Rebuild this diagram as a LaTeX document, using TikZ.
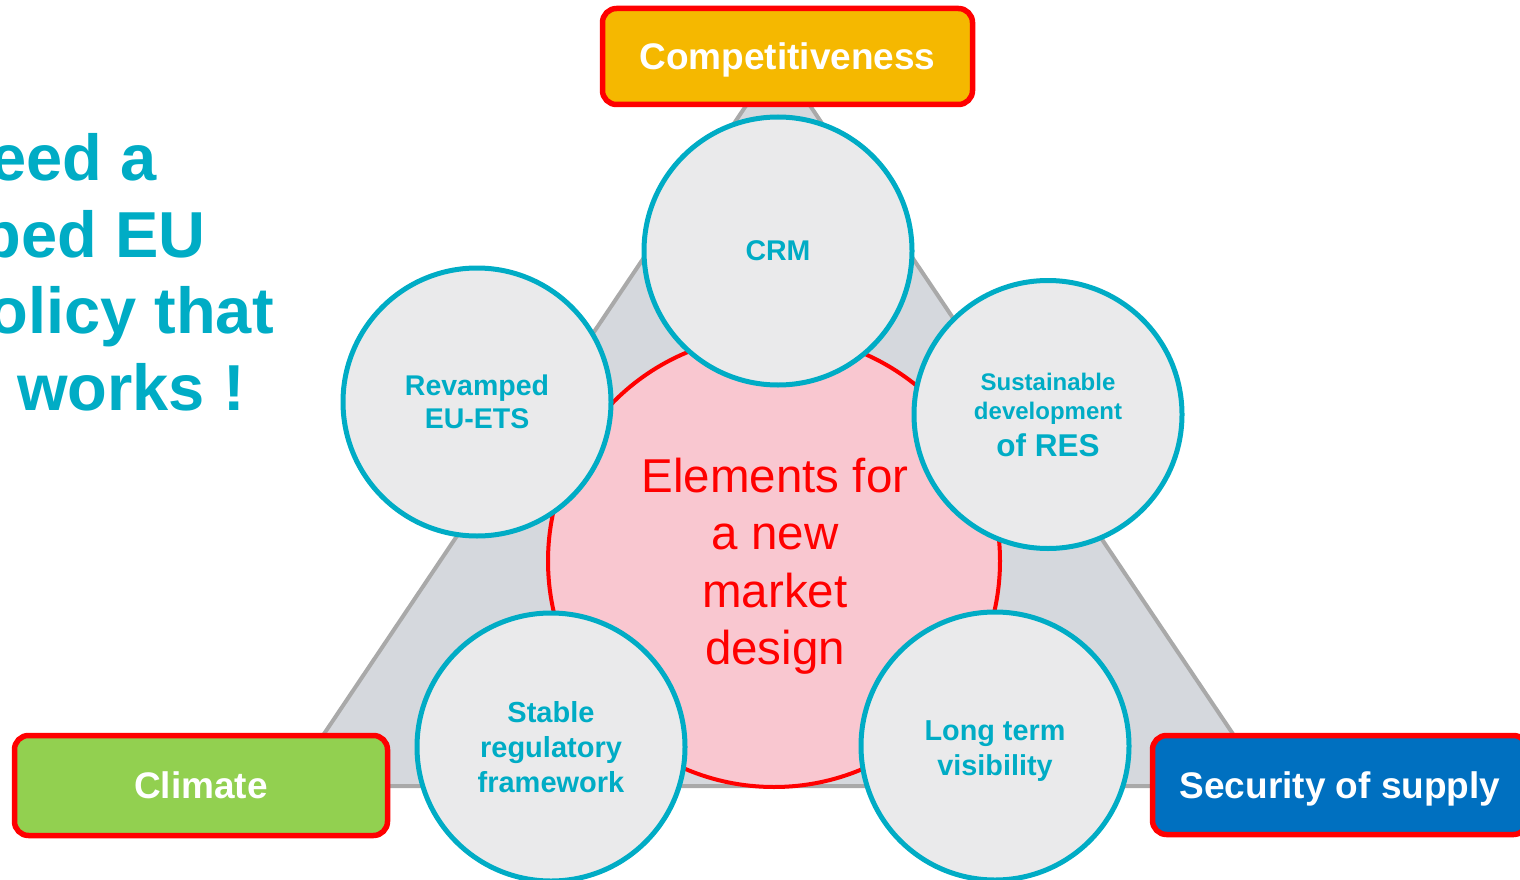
\documentclass[tikz,border=0pt]{standalone}
\usepackage{fontspec}
\setmainfont{Liberation Sans}
\definecolor{tealc}{HTML}{00ACC5}
\definecolor{trifill}{HTML}{D5D8DD}
\definecolor{triline}{HTML}{A9A9A9}
\definecolor{circfill}{HTML}{EAEAEB}
\definecolor{pinkfill}{HTML}{F9C7D0}
\definecolor{compfill}{HTML}{F5B800}
\definecolor{climfill}{HTML}{92D050}
\definecolor{secfill}{HTML}{0070C0}
\begin{document}
\begin{tikzpicture}[x=1pt,y=-1pt,
  elem/.style={circle, draw=tealc, line width=5pt, fill=circfill, minimum size=268pt,
    inner sep=0pt, text=tealc, align=center, font=\bfseries\fontsize{28.5}{33}\selectfont},
  goal/.style={draw=red, line width=5.5pt, rounded corners=14pt, text=white, inner sep=0pt,
    font=\bfseries\fontsize{37}{44}\selectfont, text height=26.5pt, text depth=0pt},
  lefttext/.style={text=tealc, inner sep=0pt, font=\bfseries\fontsize{65}{77}\selectfont}
]
\useasboundingbox (0,0) rectangle (1520,880);
% triangle
\coordinate (tA) at (778,58);
\coordinate (tB) at (289,786);
\coordinate (tC) at (1268,786);
\draw[draw=triline, line width=4pt, fill=trifill, line join=round] (tA) -- (tB) -- (tC) -- cycle;
% core circle
\node[circle, draw=red, line width=4pt, fill=pinkfill, minimum size=452pt, inner sep=0pt] (core) at (774,561) {};
\node[text=red, inner sep=0pt, align=center, font=\fontsize{47.5}{57.5}\selectfont] (coretext) at (775,566)
  {Elements for\\a new\\market\\design};
% element circles
\node[elem] (crm) at (778,251) {CRM};
\node[elem] (ets) at (477,402) {Revamped\\EU-ETS};
\node[elem, font=\bfseries\fontsize{24}{29}\selectfont] (res) at (1048,414.5)
  {Sustainable\\development\\[8pt]\fontsize{31.5}{37}\selectfont of RES};
\node[elem, font=\bfseries\fontsize{29}{35}\selectfont] (stable) at (551,747)
  {Stable\\regulatory\\framework};
\node[elem, font=\bfseries\fontsize{28.8}{35}\selectfont] (long) at (995,746)
  {\rule{0pt}{29pt}Long term\\visibility};
% goal boxes
\node[goal, fill=compfill, minimum width=370pt, minimum height=96pt] (comp) at (787.5,56.5) {Competitiveness};
\node[goal, fill=climfill, minimum width=373pt, minimum height=100pt] (clim) at (201,785.5) {Climate};
\node[goal, fill=secfill, minimum width=375pt, minimum height=99pt] (sec) at (1340,785) {Security of supply};
% left text
\node[lefttext, anchor=base east] (l1) at (157,180) {eed a};
\node[lefttext, anchor=base east] (l2) at (206,257) {ped EU};
\node[lefttext, anchor=base east] (l3) at (274,333) {olicy that};
\node[lefttext, anchor=base west] (l4) at (17,410) {works !};
\end{tikzpicture}
\end{document}
